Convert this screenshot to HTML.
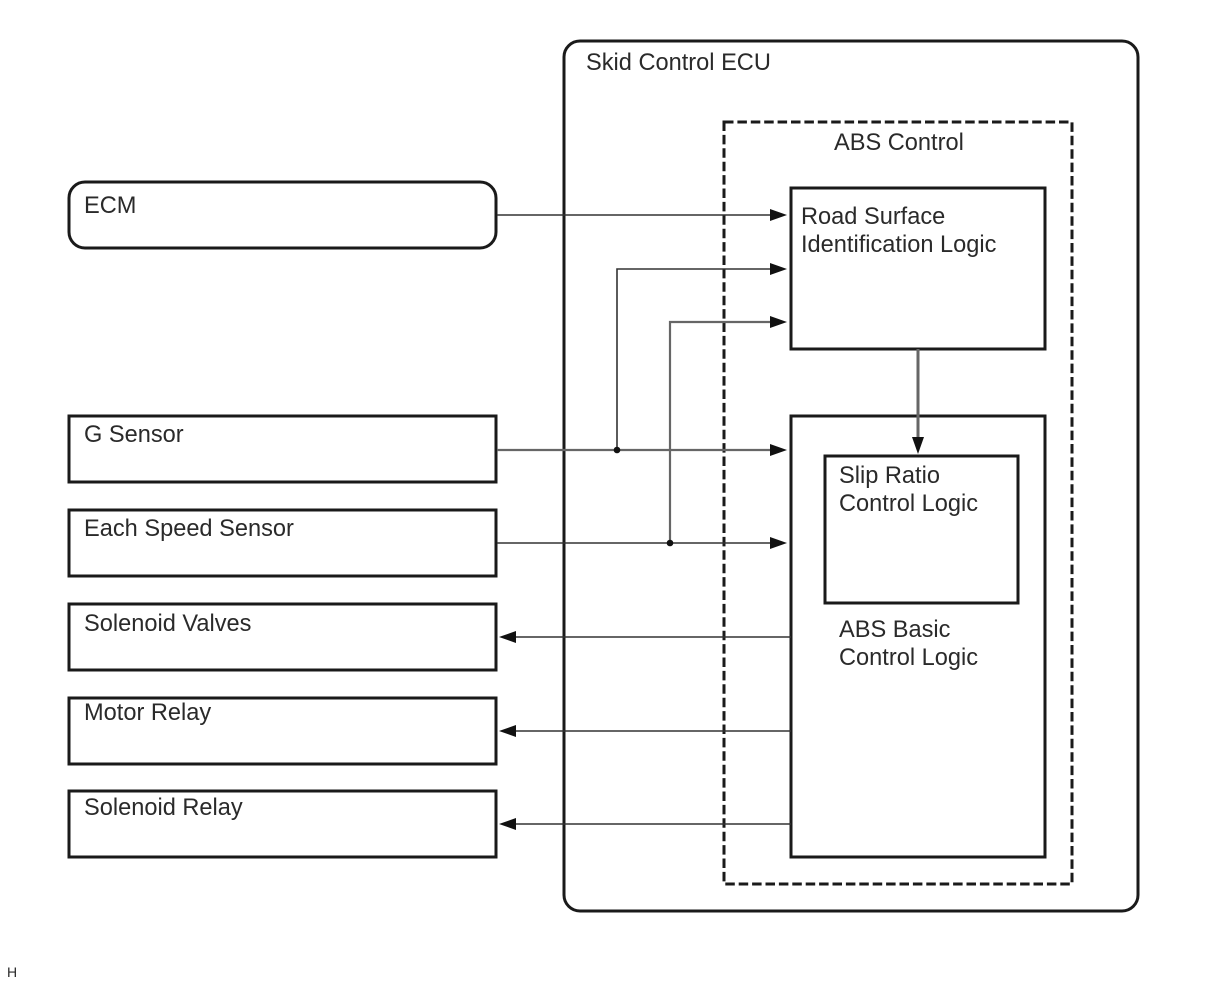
<!DOCTYPE html>
<html>
<head>
<meta charset="utf-8">
<style>
html,body{margin:0;padding:0;background:#fff;}
svg{display:block;filter:blur(0.35px);}
text{font-family:"Liberation Sans",sans-serif;font-size:23.6px;fill:#2a2a2a;}
</style>
</head>
<body>
<svg width="1210" height="986" viewBox="0 0 1210 986" xmlns="http://www.w3.org/2000/svg">
<rect width="1210" height="986" fill="#fff"/>
<g fill="none" stroke="#1a1a1a" stroke-width="3">
<rect x="564" y="41" width="574" height="870" rx="16"/>
<rect x="724" y="122" width="348" height="762" stroke-dasharray="9.5 3.9"/>
<rect x="791" y="188" width="254" height="161"/>
<rect x="791" y="416" width="254" height="441"/>
<rect x="825" y="456" width="193" height="147"/>
<rect x="69" y="182" width="427" height="66" rx="16"/>
<rect x="69" y="416" width="427" height="66"/>
<rect x="69" y="510" width="427" height="66"/>
<rect x="69" y="604" width="427" height="66"/>
<rect x="69" y="698" width="427" height="66"/>
<rect x="69" y="791" width="427" height="66"/>
</g>
<g fill="none" stroke="#333" stroke-width="1.6">
<path d="M497 215H775"/>
<path d="M497 543H775"/>
<path d="M617 450V269H775"/>
<path d="M515 637H791"/>
<path d="M515 731H791"/>
<path d="M515 824H791"/>
</g>
<g fill="none" stroke="#666" stroke-width="2.2">
<path d="M497 450H775"/>
<path d="M670 543V322H775"/>
</g>
<path d="M918 349V442" stroke="#666" stroke-width="3" fill="none"/>
<g fill="#111">
<polygon points="787,215 770,209 770,221"/>
<polygon points="787,269 770,263 770,275"/>
<polygon points="787,322 770,316 770,328"/>
<polygon points="787,450 770,444 770,456"/>
<polygon points="787,543 770,537 770,549"/>
<polygon points="499,637 516,631 516,643"/>
<polygon points="499,731 516,725 516,737"/>
<polygon points="499,824 516,818 516,830"/>
<polygon points="918,454 912,437 924,437"/>
<circle cx="617" cy="450" r="3.3"/>
<circle cx="670" cy="543" r="3.3"/>
</g>
<text x="586" y="70">Skid Control ECU</text>
<text x="834" y="150">ABS Control</text>
<text x="84" y="213">ECM</text>
<text x="801" y="224">Road Surface</text>
<text x="801" y="252">Identification Logic</text>
<text x="84" y="442">G Sensor</text>
<text x="84" y="536">Each Speed Sensor</text>
<text x="84" y="631">Solenoid Valves</text>
<text x="84" y="720">Motor Relay</text>
<text x="84" y="815">Solenoid Relay</text>
<text x="839" y="483">Slip Ratio</text>
<text x="839" y="511">Control Logic</text>
<text x="839" y="637">ABS Basic</text>
<text x="839" y="665">Control Logic</text>
<text x="7" y="977" style="font-size:14px">H</text>
</svg>
</body>
</html>
